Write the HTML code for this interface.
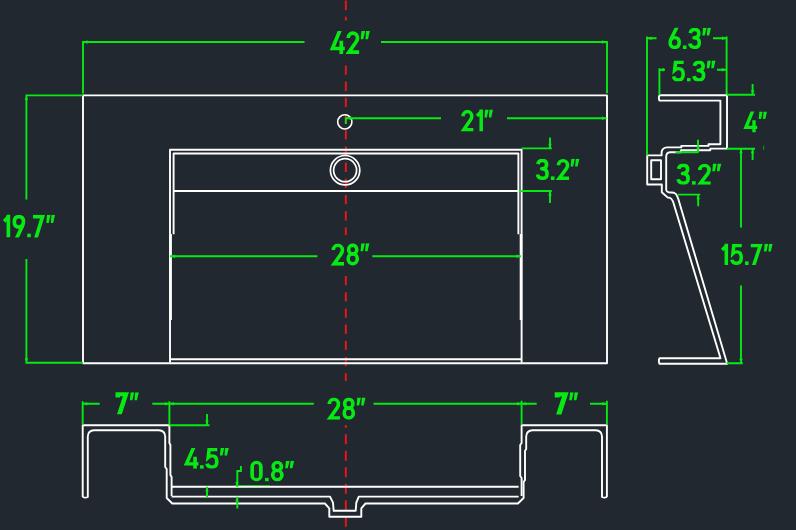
<!DOCTYPE html>
<html>
<head>
<meta charset="utf-8">
<title>Sink dimensions</title>
<style>
  html, body { margin: 0; padding: 0; background: #212830; }
  body { width: 796px; height: 530px; overflow: hidden; font-family: "Liberation Sans", sans-serif; }
  svg { display: block; filter: blur(0.35px); }
  .w { stroke: #ffffff; stroke-width: 1.9; fill: none; stroke-linejoin: round; stroke-linecap: butt; }
  .g { stroke: #08e914; stroke-width: 1.9; fill: none; stroke-linecap: butt; }
  .r { stroke: #f21414; stroke-width: 1.9; fill: none; }
  .a { fill: #08e914; stroke: none; }
  text { font-family: "Liberation Sans", sans-serif; fill: transparent; stroke: none; }
  .m { fill: #212830; stroke: none; }
  .s { stroke: #08e914; fill: none; stroke-linecap: butt; stroke-linejoin: round; }
  .f { fill: #08e914; stroke: none; }
</style>
</head>
<body>
<svg width="796" height="530" viewBox="0 0 796 530">
  <defs><clipPath id="cap"><rect x="-10" y="0" width="500" height="100"/></clipPath></defs>
  <rect class="m" x="0" y="0" width="796" height="530"/>

  <!-- ============ centre line (red, dashed) ============ -->
  <g id="centre">
    <line class="r" x1="345.8" y1="0.6" x2="345.8" y2="381" stroke-dasharray="9.3 6.9"/>
    <line class="r" x1="345.8" y1="425" x2="345.8" y2="530" stroke-dasharray="9.9 6.6" stroke-dashoffset="7.2"/>
    <rect class="m" x="340" y="20.5" width="12" height="44.3"/>
    <rect class="m" x="340" y="235" width="12" height="39"/>
  </g>

  <!-- ============ PLAN VIEW ============ -->
  <g id="plan">
    <rect class="w" x="83" y="95.4" width="524" height="267.8"/>
    <!-- basin outer -->
    <path class="w" d="M170,362.5 V149.8 H521.6 V362.5"/>
    <path class="w" d="M170,359.2 H521.6"/>
    <!-- basin inner -->
    <path class="w" d="M173.6,234.3 V153.5 H518.4 V234.3"/>
    <path class="w" d="M173.6,191 H518.4"/>
    <!-- thicker lower part of basin walls -->
    <path class="w" style="stroke-width:2.6" d="M170.6,234 V320 M521,234 V320"/>
    <!-- faucet hole & drain -->
    <circle class="w" cx="344.8" cy="121.9" r="7.1" style="stroke-width:1.6"/>
    <circle class="w" cx="345.1" cy="170.2" r="14.7" style="stroke-width:1.7"/>
    <circle class="w" cx="345.1" cy="170.2" r="11.5" style="stroke-width:1.7"/>
  </g>

  <!-- ============ PLAN DIMENSIONS ============ -->
  <g id="plandims">
    <!-- 42 -->
    <path class="g" d="M83,93.6 V42 H304.5 M381,42 H607 V93.2"/>
    <!-- 19.7 -->
    <path class="g" d="M83,95.4 H26.4 V199.6 M26.4,259 V362.8 H83"/>
    <!-- 21 -->
    <path class="g" d="M345.8,124 V118.2 H441 M507,118.2 H606.5"/>
    <!-- 3.2 -->
    <path class="g" d="M521.6,148.4 H551.8 M550,137.5 V149 M519,191 H551.8 M550,191 V203"/>
    <!-- 28 -->
    <path class="g" d="M170,256.2 H317.5 M372.3,256.2 H521"/>
  </g>

  <!-- ============ SIDE VIEW ============ -->
  <g id="side">
    <!-- outer contour -->
    <path class="w" d="M659.5,95.3 H727 V148.6 H710.3 V150.2 H681 V152.2 H670 Q666.2,152.6 666.2,156.6 V189.9 Q666.6,192 668.6,192.3 L674.1,192.8 Q676,193.4 676.9,195.6 L678.3,198.9 L727.2,363.8 H659.5 Q658.2,361 659.5,358.2 H720.5 L673.1,201.7 Q671.6,198.6 670.3,198 L667.5,197.4 L661.8,192.2 V184.5 H647.2 V155.4 H661.6 V152 Q662.5,147.6 667,147.4 H681.3 V145.9 H708.5 V144.2 H720.4 V100.6 H659.5 Q658.2,98 659.5,95.3 Z"/>
    <rect class="w" x="651.2" y="160.2" width="9.8" height="19"/>
  </g>

  <!-- ============ SIDE DIMENSIONS ============ -->
  <g id="sidedims">
    <!-- 6.3 -->
    <path class="g" d="M647,155.6 V36.5 M647,38.3 H656.5 M713,38.3 H726.6 M726.6,36.5 V94.5"/>
    <!-- 5.3 -->
    <path class="g" d="M659.4,95 V68.3 M659.4,69.8 H665 M717,69.8 H726"/>
    <!-- 4 -->
    <path class="g" d="M727,94.8 H755 M752.6,84 V95.5 M727,148.7 H755 M752.6,148.7 V160"/>
    <path class="g" style="stroke-width:1;opacity:.6" d="M763.7,145.5 V149.8"/>
    <!-- 3.2 -->
    <path class="g" d="M698,139.8 V152.8 M675.5,152.3 H698 M677.6,194.6 H700.2 M698.2,194.6 V206.3"/>
    <!-- 15.7 -->
    <path class="g" d="M741,148.7 V227.5 M741,285.4 V363 M726.6,363.3 H742.8"/>
  </g>

  <!-- ============ FRONT SECTION ============ -->
  <g id="front">
    <!-- outer/top contour -->
    <path class="w" d="M82.7,497 V425.3 H169.4 V443 L170.4,445 V475 L171.6,477 V496"/>
    <path class="w" d="M521.6,496 V478 L520.2,476 V445 L521.6,443 V425.3 H606.9 V497"/>
    <!-- inner contour -->
    <path class="w" d="M82.7,497 Q85.2,498.2 87.8,497 V436.5 Q88,430.6 94,430.3 H159 Q164.9,430.6 165.2,436.5 V467 L166.7,469 V498 L172.3,503.5 H324.9 L329.3,508.3 V516.7 H361.3 V508.3 L365.5,503.5 H517.9 L523.6,498 V482 L525,480 V451 L526.2,449 V436.5 Q526.5,430.6 532.5,430.3 H595.8 Q601.7,430.6 602,436.5 V497 Q604.5,498.2 606.9,497"/>
    <!-- basin floor lines -->
    <path class="w" d="M171.6,486.8 H518.6"/>
    <path class="w" d="M171.6,496.6 H330 L333,502.7 L333.7,510.8 H355.7 L356.3,502.7 L358.8,496.6 H518.6"/>
  </g>

  <!-- ============ FRONT DIMENSIONS ============ -->
  <g id="frontdims">
    <!-- 7 left -->
    <path class="g" d="M82.7,424.5 V401.3 M82.7,403.8 H99.7 M152.3,403.8 H313.8 M169.4,401.3 V424.5"/>
    <!-- 28 right half, 7 right -->
    <path class="g" d="M373.5,403.8 H536.7 M521.6,400.8 V424.5 M590,403.8 H606.9 M606.9,400.8 V424.5"/>
    <!-- 4.5 -->
    <path class="g" d="M169.4,425.2 H209.5 M207,413.9 V425.8 M207,486.8 V497.4"/>
    <!-- 0.8 -->
    <path class="g" d="M240.9,466 V471 H237.3 V487 M237.3,496.8 V508.6"/>
    <path class="g" style="stroke-width:1;opacity:.75" d="M234,485.6 H270"/>
  </g>

  <!-- ============ ARROWHEADS ============ -->
  <g id="arrows">
    <polygon class="a" points="83.0,42.0 87.6,40.3 87.6,43.7"/>
    <polygon class="a" points="606.6,42.0 602.0,40.3 602.0,43.7"/>
    <polygon class="a" points="26.4,95.4 24.7,100.0 28.1,100.0"/>
    <polygon class="a" points="26.4,362.8 24.7,358.2 28.1,358.2"/>
    <polygon class="a" points="346.8,118.2 351.4,116.5 351.4,119.9"/>
    <polygon class="a" points="606.5,118.2 601.9,116.5 601.9,119.9"/>
    <polygon class="a" points="550.0,148.4 548.3,143.8 551.7,143.8"/>
    <polygon class="a" points="550.0,191.0 548.3,195.6 551.7,195.6"/>
    <polygon class="a" points="170.5,256.2 175.1,254.5 175.1,257.9"/>
    <polygon class="a" points="521.0,256.2 516.4,254.5 516.4,257.9"/>
    <polygon class="a" points="647.0,38.3 651.6,36.6 651.6,40.0"/>
    <polygon class="a" points="726.6,38.3 722.0,36.6 722.0,40.0"/>
    <polygon class="a" points="659.4,69.8 664.0,68.1 664.0,71.5"/>
    <polygon class="a" points="726.4,69.8 721.8,68.1 721.8,71.5"/>
    <polygon class="a" points="752.6,94.8 750.9,90.2 754.3,90.2"/>
    <polygon class="a" points="752.6,148.7 750.9,153.3 754.3,153.3"/>
    <polygon class="a" points="698.0,152.3 696.3,147.7 699.7,147.7"/>
    <polygon class="a" points="698.2,194.6 696.5,199.2 699.9,199.2"/>
    <polygon class="a" points="741.0,148.7 739.3,153.3 742.7,153.3"/>
    <polygon class="a" points="741.0,363.3 739.3,358.7 742.7,358.7"/>
    <polygon class="a" points="82.7,403.8 87.3,402.1 87.3,405.5"/>
    <polygon class="a" points="169.4,403.8 164.8,402.1 164.8,405.5"/>
    <polygon class="a" points="169.4,403.8 174.0,402.1 174.0,405.5"/>
    <polygon class="a" points="521.6,403.8 517.0,402.1 517.0,405.5"/>
    <polygon class="a" points="521.6,403.8 526.2,402.1 526.2,405.5"/>
    <polygon class="a" points="606.9,403.8 602.3,402.1 602.3,405.5"/>
    <polygon class="a" points="207.0,425.2 205.3,420.6 208.7,420.6"/>
    <polygon class="a" points="207.0,486.8 205.3,491.4 208.7,491.4"/>
    <polygon class="a" points="237.0,486.6 235.3,482.0 238.7,482.0"/>
    <polygon class="a" points="237.0,496.8 235.3,501.4 238.7,501.4"/>
  </g>

  <!-- ============ TEXT ============ -->
  <g id="labels">
    <g transform="translate(330.40,31.10) scale(0.2318,0.2290)" clip-path="url(#cap)" style="stroke-width:16">
      <g transform="translate(0,0)"><path class="s" style="stroke-linejoin:miter" d="M43,-8 L9,76 H62"/></g>
      <g transform="translate(0,0)"><path class="s" d="M47,42 V100"/></g>
      <g transform="translate(69,0)"><path class="s" style="stroke-linejoin:miter" d="M8,30 A20,21.5 0 0 1 48,30 Q48,39 41,49 L11,92 H55"/></g>
      <g transform="translate(131,0)"><polygon class="f" points="3,0 19,0 11,36 0,36"/></g>
      <g transform="translate(131,0)"><polygon class="f" points="23,0 39,0 31,36 20,36"/></g>
    </g>
    <g transform="translate(461.30,109.60) scale(0.2186,0.2180)" clip-path="url(#cap)" style="stroke-width:16">
      <g transform="translate(0,0)"><path class="s" style="stroke-linejoin:miter" d="M8,30 A20,21.5 0 0 1 48,30 Q48,39 41,49 L11,92 H55"/></g>
      <g transform="translate(66,0)"><path class="s" d="M25,-5 V100"/></g>
      <g transform="translate(66,0)"><path class="s" d="M27,8 L6,29"/></g>
      <g transform="translate(106,0)"><polygon class="f" points="3,0 19,0 11,36 0,36"/></g>
      <g transform="translate(106,0)"><polygon class="f" points="23,0 39,0 31,36 20,36"/></g>
    </g>
    <g transform="translate(536.30,158.80) scale(0.2245,0.2120)" clip-path="url(#cap)" style="stroke-width:16">
      <g transform="translate(0,0)"><path class="s" d="M7,25 Q10,8 27,8 Q46,8 46,27 Q46,46 24,47 Q48,48 48,70 Q48,92 27,92 Q8,92 5,74"/></g>
      <g transform="translate(65,0)"><rect class="f" x="0" y="83" width="16" height="17"/></g>
      <g transform="translate(91,0)"><path class="s" style="stroke-linejoin:miter" d="M8,30 A20,21.5 0 0 1 48,30 Q48,39 41,49 L11,92 H55"/></g>
      <g transform="translate(153,0)"><polygon class="f" points="3,0 19,0 11,36 0,36"/></g>
      <g transform="translate(153,0)"><polygon class="f" points="23,0 39,0 31,36 20,36"/></g>
    </g>
    <g transform="translate(331.50,243.30) scale(0.2269,0.2240)" clip-path="url(#cap)" style="stroke-width:16">
      <g transform="translate(0,0)"><path class="s" style="stroke-linejoin:miter" d="M8,30 A20,21.5 0 0 1 48,30 Q48,39 41,49 L11,92 H55"/></g>
      <g transform="translate(66,0)"><ellipse class="s" cx="27.5" cy="28" rx="18" ry="20"/></g>
      <g transform="translate(66,0)"><ellipse class="s" cx="27.5" cy="69.5" rx="20" ry="22.5"/></g>
      <g transform="translate(128,0)"><polygon class="f" points="3,0 19,0 11,36 0,36"/></g>
      <g transform="translate(128,0)"><polygon class="f" points="23,0 39,0 31,36 20,36"/></g>
    </g>
    <g transform="translate(2.80,214.80) scale(0.2221,0.2270)" clip-path="url(#cap)" style="stroke-width:16.5">
      <g transform="translate(0,0)"><path class="s" d="M25,-5 V100"/></g>
      <g transform="translate(0,0)"><path class="s" d="M27,8 L6,29"/></g>
      <g transform="translate(45,0)"><path class="s" d="M16,106 L43,50 Q48,40 48,31 Q48,8 27.5,8 Q7,8 7,31.5 Q7,54 27.5,54 Q40,54 46,42"/></g>
      <g transform="translate(110,0)"><rect class="f" x="0" y="83" width="16" height="17"/></g>
      <g transform="translate(136,0)"><path class="s" style="stroke-linejoin:miter" d="M0,8 H43 L12,106"/></g>
      <g transform="translate(196,0)"><polygon class="f" points="3,0 19,0 11,36 0,36"/></g>
      <g transform="translate(196,0)"><polygon class="f" points="23,0 39,0 31,36 20,36"/></g>
    </g>
    <g transform="translate(668.60,27.80) scale(0.2208,0.2130)" clip-path="url(#cap)" style="stroke-width:16">
      <g transform="translate(0,0)"><path class="s" d="M39,-6 L12,50 Q7,60 7,69 Q7,92 27.5,92 Q48,92 48,68.5 Q48,46 27.5,46 Q15,46 9,58"/></g>
      <g transform="translate(65,0)"><rect class="f" x="0" y="83" width="16" height="17"/></g>
      <g transform="translate(91,0)"><path class="s" d="M7,25 Q10,8 27,8 Q46,8 46,27 Q46,46 24,47 Q48,48 48,70 Q48,92 27,92 Q8,92 5,74"/></g>
      <g transform="translate(153,0)"><polygon class="f" points="3,0 19,0 11,36 0,36"/></g>
      <g transform="translate(153,0)"><polygon class="f" points="23,0 39,0 31,36 20,36"/></g>
    </g>
    <g transform="translate(672.40,60.60) scale(0.2245,0.2100)" clip-path="url(#cap)" style="stroke-width:16">
      <g transform="translate(0,0)"><path class="s" style="stroke-linejoin:miter" d="M50,8 H14 L10,46 Q18,38 28,38 Q48,38 48,65 Q48,92 27,92 Q8,92 5,75"/></g>
      <g transform="translate(65,0)"><rect class="f" x="0" y="83" width="16" height="17"/></g>
      <g transform="translate(91,0)"><path class="s" d="M7,25 Q10,8 27,8 Q46,8 46,27 Q46,46 24,47 Q48,48 48,70 Q48,92 27,92 Q8,92 5,74"/></g>
      <g transform="translate(153,0)"><polygon class="f" points="3,0 19,0 11,36 0,36"/></g>
      <g transform="translate(153,0)"><polygon class="f" points="23,0 39,0 31,36 20,36"/></g>
    </g>
    <g transform="translate(744.00,111.40) scale(0.2130,0.2100)" clip-path="url(#cap)" style="stroke-width:16">
      <g transform="translate(0,0)"><path class="s" style="stroke-linejoin:miter" d="M43,-8 L9,76 H62"/></g>
      <g transform="translate(0,0)"><path class="s" d="M47,42 V100"/></g>
      <g transform="translate(69,0)"><polygon class="f" points="3,0 19,0 11,36 0,36"/></g>
      <g transform="translate(69,0)"><polygon class="f" points="23,0 39,0 31,36 20,36"/></g>
    </g>
    <g transform="translate(677.00,163.60) scale(0.2307,0.2120)" clip-path="url(#cap)" style="stroke-width:16">
      <g transform="translate(0,0)"><path class="s" d="M7,25 Q10,8 27,8 Q46,8 46,27 Q46,46 24,47 Q48,48 48,70 Q48,92 27,92 Q8,92 5,74"/></g>
      <g transform="translate(65,0)"><rect class="f" x="0" y="83" width="16" height="17"/></g>
      <g transform="translate(91,0)"><path class="s" style="stroke-linejoin:miter" d="M8,30 A20,21.5 0 0 1 48,30 Q48,39 41,49 L11,92 H55"/></g>
      <g transform="translate(153,0)"><polygon class="f" points="3,0 19,0 11,36 0,36"/></g>
      <g transform="translate(153,0)"><polygon class="f" points="23,0 39,0 31,36 20,36"/></g>
    </g>
    <g transform="translate(720.80,243.80) scale(0.2204,0.2120)" clip-path="url(#cap)" style="stroke-width:16">
      <g transform="translate(0,0)"><path class="s" d="M25,-5 V100"/></g>
      <g transform="translate(0,0)"><path class="s" d="M27,8 L6,29"/></g>
      <g transform="translate(45,0)"><path class="s" style="stroke-linejoin:miter" d="M50,8 H14 L10,46 Q18,38 28,38 Q48,38 48,65 Q48,92 27,92 Q8,92 5,75"/></g>
      <g transform="translate(110,0)"><rect class="f" x="0" y="83" width="16" height="17"/></g>
      <g transform="translate(136,0)"><path class="s" style="stroke-linejoin:miter" d="M0,8 H43 L12,106"/></g>
      <g transform="translate(196,0)"><polygon class="f" points="3,0 19,0 11,36 0,36"/></g>
      <g transform="translate(196,0)"><polygon class="f" points="23,0 39,0 31,36 20,36"/></g>
    </g>
    <g transform="translate(116.20,392.20) scale(0.2283,0.2210)" clip-path="url(#cap)" style="stroke-width:20">
      <g transform="translate(0,0)"><path class="s" style="stroke-linejoin:miter" d="M7,24 V8 H43 L12,106"/></g>
      <g transform="translate(60,0)"><polygon class="f" points="3,0 19,0 11,36 0,36"/></g>
      <g transform="translate(60,0)"><polygon class="f" points="23,0 39,0 31,36 20,36"/></g>
    </g>
    <g transform="translate(327.50,397.40) scale(0.2275,0.2230)" clip-path="url(#cap)" style="stroke-width:16">
      <g transform="translate(0,0)"><path class="s" style="stroke-linejoin:miter" d="M8,30 A20,21.5 0 0 1 48,30 Q48,39 41,49 L11,92 H55"/></g>
      <g transform="translate(66,0)"><ellipse class="s" cx="27.5" cy="28" rx="18" ry="20"/></g>
      <g transform="translate(66,0)"><ellipse class="s" cx="27.5" cy="69.5" rx="20" ry="22.5"/></g>
      <g transform="translate(128,0)"><polygon class="f" points="3,0 19,0 11,36 0,36"/></g>
      <g transform="translate(128,0)"><polygon class="f" points="23,0 39,0 31,36 20,36"/></g>
    </g>
    <g transform="translate(555.60,392.20) scale(0.2283,0.2220)" clip-path="url(#cap)" style="stroke-width:22">
      <g transform="translate(0,0)"><path class="s" style="stroke-linejoin:miter" d="M7,24 V8 H43 L12,106"/></g>
      <g transform="translate(60,0)"><polygon class="f" points="3,0 19,0 11,36 0,36"/></g>
      <g transform="translate(60,0)"><polygon class="f" points="23,0 39,0 31,36 20,36"/></g>
    </g>
    <g transform="translate(184.40,448.00) scale(0.2265,0.2080)" clip-path="url(#cap)" style="stroke-width:16">
      <g transform="translate(0,0)"><path class="s" style="stroke-linejoin:miter" d="M43,-8 L9,76 H62"/></g>
      <g transform="translate(0,0)"><path class="s" d="M47,42 V100"/></g>
      <g transform="translate(69,0)"><rect class="f" x="0" y="83" width="16" height="17"/></g>
      <g transform="translate(95,0)"><path class="s" style="stroke-linejoin:miter" d="M50,8 H14 L10,46 Q18,38 28,38 Q48,38 48,65 Q48,92 27,92 Q8,92 5,75"/></g>
      <g transform="translate(157,0)"><polygon class="f" points="3,0 19,0 11,36 0,36"/></g>
      <g transform="translate(157,0)"><polygon class="f" points="23,0 39,0 31,36 20,36"/></g>
    </g>
    <g transform="translate(250.30,460.70) scale(0.2298,0.2070)" clip-path="url(#cap)" style="stroke-width:16">
      <g transform="translate(0,0)"><path class="s" d="M8,29 A19,21 0 0 1 46,29 V71 A19,21 0 0 1 8,71 Z"/></g>
      <g transform="translate(64,0)"><rect class="f" x="0" y="83" width="16" height="17"/></g>
      <g transform="translate(90,0)"><ellipse class="s" cx="27.5" cy="28" rx="18" ry="20"/></g>
      <g transform="translate(90,0)"><ellipse class="s" cx="27.5" cy="69.5" rx="20" ry="22.5"/></g>
      <g transform="translate(152,0)"><polygon class="f" points="3,0 19,0 11,36 0,36"/></g>
      <g transform="translate(152,0)"><polygon class="f" points="23,0 39,0 31,36 20,36"/></g>
    </g>
  </g>
  <!-- label strings (transparent; visible glyphs are drawn as DIN-style strokes above) -->
  <g id="labeltext">
    <text x="329" y="53.5" font-size="31.5" textLength="42" lengthAdjust="spacingAndGlyphs">42”</text>
    <text x="460" y="131" font-size="31" textLength="34" lengthAdjust="spacingAndGlyphs">21”</text>
    <text x="535" y="179.5" font-size="30" textLength="45" lengthAdjust="spacingAndGlyphs">3.2”</text>
    <text x="330" y="265.3" font-size="31.5" textLength="40" lengthAdjust="spacingAndGlyphs">28”</text>
    <text x="2" y="237.3" font-size="31.5" textLength="53" lengthAdjust="spacingAndGlyphs">19.7”</text>
    <text x="667.6" y="48.7" font-size="30" textLength="44" lengthAdjust="spacingAndGlyphs">6.3”</text>
    <text x="671.4" y="81.2" font-size="30" textLength="45" lengthAdjust="spacingAndGlyphs">5.3”</text>
    <text x="743" y="132" font-size="30" textLength="25" lengthAdjust="spacingAndGlyphs">4”</text>
    <text x="676" y="184.4" font-size="30" textLength="46" lengthAdjust="spacingAndGlyphs">3.2”</text>
    <text x="719.6" y="264.6" font-size="30" textLength="54" lengthAdjust="spacingAndGlyphs">15.7”</text>
    <text x="115" y="413.8" font-size="31" textLength="25" lengthAdjust="spacingAndGlyphs">7”</text>
    <text x="326.4" y="419.2" font-size="31.5" textLength="40" lengthAdjust="spacingAndGlyphs">28”</text>
    <text x="554.6" y="413.9" font-size="31" textLength="25" lengthAdjust="spacingAndGlyphs">7”</text>
    <text x="183.4" y="468.4" font-size="29.5" textLength="46" lengthAdjust="spacingAndGlyphs">4.5”</text>
    <text x="249.3" y="481" font-size="29.5" textLength="46" lengthAdjust="spacingAndGlyphs">0.8”</text>
  </g>
</svg>
</body>
</html>
